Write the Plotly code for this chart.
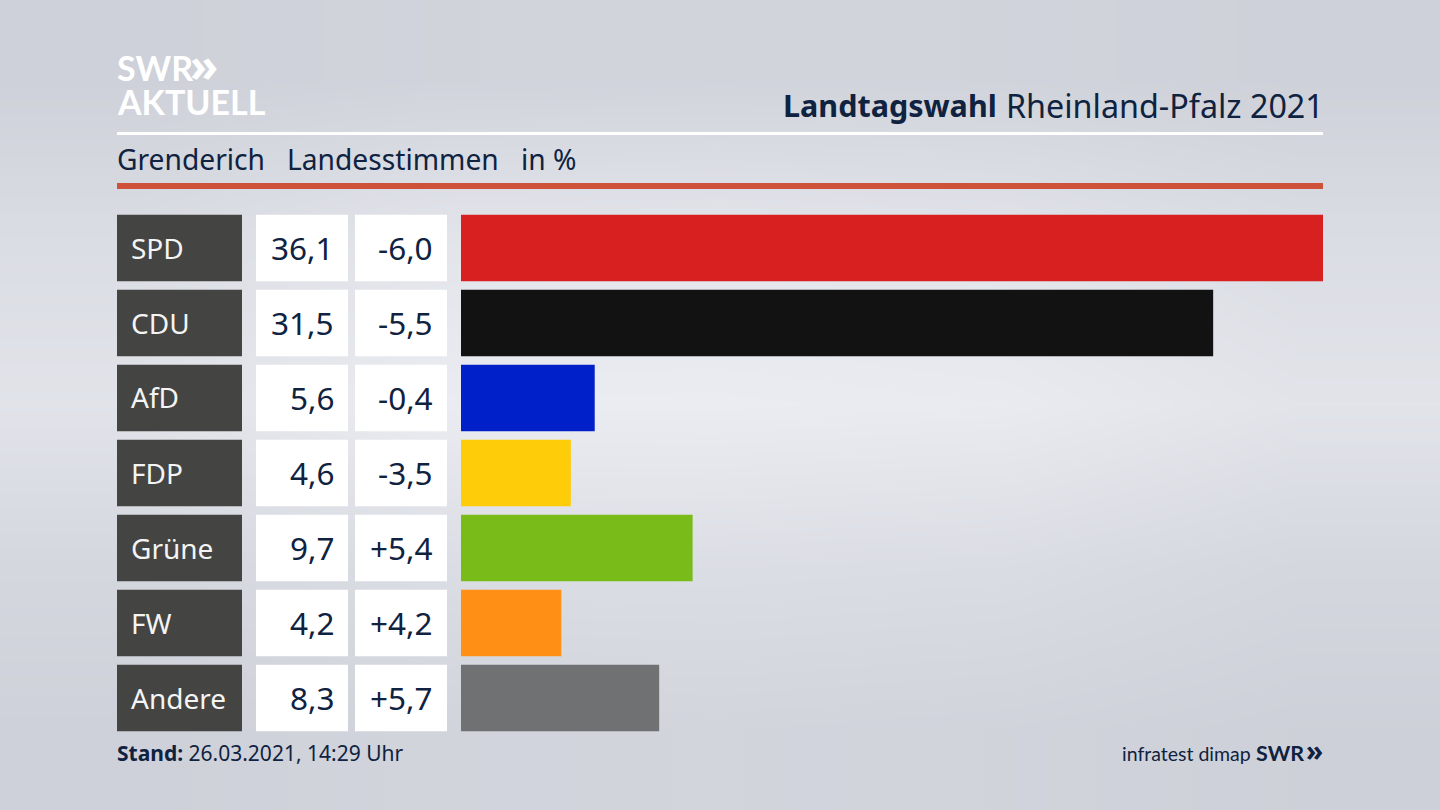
import plotly.graph_objects as go

# Data
parties = ["SPD", "CDU", "AfD", "FDP", "Grüne", "FW", "Andere"]
votes = [36.1, 31.5, 5.6, 4.6, 9.7, 4.2, 8.3]
changes = [-6.0, -5.5, -0.4, -3.5, 5.4, 4.2, 5.7]
party_colors = ["#d7201f", "#121212", "#0021c9", "#ffcc09", "#79bb18", "#ff8f15", "#707173"]

# Background glow, light band across the middle
bg_z = [
    [0.10, 0.20, 0.22, 0.18, 0.08],
    [0.30, 0.50, 0.52, 0.48, 0.30],
    [0.70, 1.00, 1.00, 0.95, 0.72],
    [0.50, 0.75, 0.78, 0.72, 0.50],
    [0.10, 0.18, 0.20, 0.18, 0.10],
]

W, H = 1440, 810
FONT = "Noto Sans"
NARROW = "Lato"
NAVY = "#0f2240"


def px_x(p):
    return p / W


def px_y(p):
    return 1 - p / H


fig = go.Figure()

# background sits on the first subplot so everything else draws over it
fig.add_trace(go.Heatmap(
    z=bg_z, xaxis="x", yaxis="y", showscale=False, zsmooth="best", hoverinfo="skip",
    colorscale=[[0, "#cbced6"], [1, "#eaecf1"]], zmin=0, zmax=1,
))

# party label cells, value cells, change cells
fig.add_trace(go.Bar(y=parties, x=[1] * 7, orientation="h", xaxis="x2", yaxis="y2",
                     marker=dict(color="#444442", line_width=0), hoverinfo="skip"))
fig.add_trace(go.Bar(y=parties, x=[1] * 7, orientation="h", xaxis="x3", yaxis="y2",
                     marker=dict(color="white", line_width=0), hoverinfo="skip"))
fig.add_trace(go.Bar(y=parties, x=[1] * 7, orientation="h", xaxis="x4", yaxis="y2",
                     marker=dict(color="white", line_width=0), hoverinfo="skip"))

# the actual result bars
fig.add_trace(go.Bar(y=parties, x=votes, orientation="h", xaxis="x5", yaxis="y2",
                     marker=dict(color=party_colors, line_width=0)))

hidden = dict(visible=False, fixedrange=True)
fig.update_layout(
    width=W, height=H,
    margin=dict(l=0, r=0, t=0, b=0),
    paper_bgcolor="#dfe1e7",
    plot_bgcolor="rgba(0,0,0,0)",
    showlegend=False,
    bargap=8.5 / 75,
    font=dict(family=FONT, color=NAVY),
    xaxis=dict(domain=[0, 1], **hidden),
    yaxis=dict(domain=[0, 1], **hidden),
    xaxis2=dict(domain=[px_x(117), px_x(242)], range=[0, 1], anchor="y2", **hidden),
    xaxis3=dict(domain=[px_x(256), px_x(348)], range=[0, 1], anchor="y2", **hidden),
    xaxis4=dict(domain=[px_x(355), px_x(447)], range=[0, 1], anchor="y2", **hidden),
    xaxis5=dict(domain=[px_x(461), px_x(1323)], range=[0, max(votes)], anchor="y2", **hidden),
    yaxis2=dict(domain=[px_y(735.5), px_y(210.5)], range=[6.5, -0.5], type="category",
                categoryorder="array", categoryarray=parties, anchor="x2", **hidden),
)

# header rules
fig.add_shape(type="rect", xref="paper", yref="paper", x0=px_x(117), x1=px_x(1323),
              y0=px_y(135), y1=px_y(132), fillcolor="white", line_width=0)
fig.add_shape(type="rect", xref="paper", yref="paper", x0=px_x(117), x1=px_x(1323),
              y0=px_y(189), y1=px_y(183), fillcolor="#cd5239", line_width=0)


def label(text, x, y, size, color=NAVY, anchor="left", family=FONT):
    # annotations carry a couple of px of padding, pull the text back onto x
    x = x - 2 if anchor == "left" else x + 3
    fig.add_annotation(text=text, xref="paper", yref="paper", x=px_x(x), y=px_y(y),
                       xanchor=anchor, yanchor="middle", showarrow=False,
                       font=dict(size=size, color=color, family=family))


# row texts
for i, party in enumerate(parties):
    cy = 247.5 + i * 75
    label(party, 131, cy, 28, color="#f4f4f4")
    label(f"{votes[i]:.1f}".replace(".", ","), 333, cy, 31.5, anchor="right")
    label(f"{changes[i]:+.1f}".replace(".", ","), 432, cy, 31.5, anchor="right")

# header
label("<b>SWR</b>", 117, 68, 34, color="white", family=NARROW)
label("<b>»</b>", 190, 64, 46, color="white")
label("<b>AKTUELL</b>", 117, 102, 34, color="white", family=NARROW)
label("<b>Landtagswahl</b>", 996, 105, 30.5, anchor="right")
label("Rheinland-Pfalz 2021", 1323, 105, 32.3, anchor="right")
label("Grenderich", 117, 159, 28.2)
label("Landesstimmen", 287, 159, 28.2)
label("in %", 521, 159, 28.2)

# footer
label("<b>Stand:</b> 26.03.2021, 14:29 Uhr", 117, 753, 21)
label("infratest dimap", 1250, 753, 19.5, anchor="right", family=NARROW)
label("<b>SWR</b>", 1303, 753, 21.5, anchor="right", family=NARROW)
label("<b>»</b>", 1322, 750, 28, anchor="right")

fig.write_html("out.html", config={"displayModeBar": False},
               post_script="document.body.style.margin='0';")
